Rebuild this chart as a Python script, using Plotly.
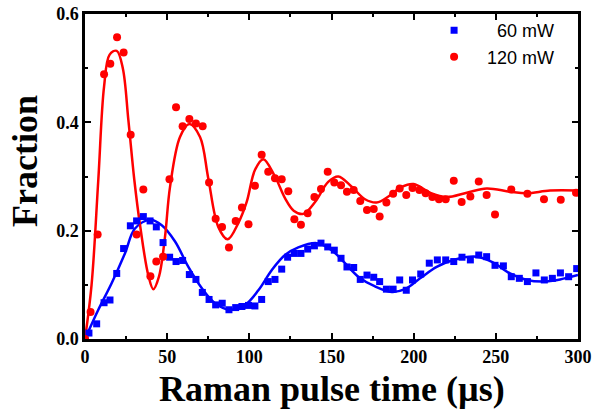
import plotly.graph_objects as go

# ---- data: 60 mW (blue squares) ----
t60 = [0, 2.4, 7.1, 11.6, 15.2, 19.3, 23.5, 27.6, 31.4, 35.5, 39.6, 43.4, 47.5, 51.5, 55.4,
       59.4, 63.5, 67.5, 71.4, 75.5, 79.5, 83.5, 87.6, 91.7, 95.5, 99.5, 103.4, 107.5, 111.5,
       115.6, 119.7, 123.3, 127.4, 131.4, 135.5, 139.6, 143.6, 147.7, 151.7, 155.8, 159.4,
       163.5, 167.5, 171.6, 175.7, 179.3, 183.4, 187.5, 191.5, 195.5, 199.3, 204.3, 209.5,
       214.4, 219.5, 224.4, 229.4, 234.5, 239.6, 244.4, 249.5, 254.6, 259.4, 264.3, 269.2,
       274.4, 279.5, 284.4, 289.3, 294.3, 299.2]
f60 = [0.0, 0.011, 0.028, 0.067, 0.072, 0.121, 0.167, 0.209, 0.218, 0.226, 0.218, 0.207, 0.178,
       0.151, 0.143, 0.145, 0.119, 0.110, 0.086, 0.073, 0.063, 0.066, 0.054, 0.058, 0.060,
       0.062, 0.061, 0.073, 0.106, 0.110, 0.129, 0.151, 0.158, 0.158, 0.166, 0.172, 0.177,
       0.170, 0.164, 0.149, 0.133, 0.132, 0.110, 0.118, 0.114, 0.106, 0.092, 0.092, 0.109,
       0.090, 0.109, 0.120, 0.140, 0.146, 0.146, 0.143, 0.151, 0.146, 0.155, 0.152, 0.136,
       0.135, 0.115, 0.112, 0.106, 0.122, 0.109, 0.112, 0.122, 0.115, 0.130]

# ---- data: 120 mW (red circles) ----
t120 = [0, 3.4, 7.7, 11.6, 15.4, 19.5, 23.5, 27.8, 31.4, 35.5, 39.8, 43.4, 47.5, 51.4, 55.4,
        59.4, 63.5, 67.5, 71.6, 75.5, 79.5, 83.4, 87.6, 91.7, 95.5, 99.5, 103.4, 107.5, 111.5,
        115.6, 119.7, 123.7, 127.4, 131.4, 135.5, 139.6, 143.6, 147.7, 151.7, 155.8, 159.4,
        163.5, 167.5, 171.6, 175.7, 179.3, 183.4, 187.5, 191.5, 195.5, 199.3, 203.5, 207.3,
        211.4, 215.4, 219.5, 224.4, 229.2, 234.5, 239.6, 244.4, 249.5, 259.4, 269.2, 279.3,
        289.5, 298.8]
f120 = [0.0, 0.050, 0.193, 0.489, 0.508, 0.557, 0.529, 0.377, 0.193, 0.276, 0.116, 0.143, 0.152,
        0.295, 0.428, 0.393, 0.406, 0.398, 0.393, 0.289, 0.222, 0.207, 0.169, 0.218, 0.243,
        0.212, 0.283, 0.340, 0.309, 0.297, 0.295, 0.273, 0.221, 0.211, 0.232, 0.262, 0.277,
        0.309, 0.289, 0.284, 0.272, 0.275, 0.255, 0.238, 0.240, 0.226, 0.252, 0.268, 0.278,
        0.266, 0.279, 0.275, 0.269, 0.262, 0.258, 0.258, 0.292, 0.253, 0.263, 0.291, 0.266,
        0.230, 0.276, 0.268, 0.258, 0.257, 0.270]

# ---- fit curves ----
fit60_t = [0, 8.1, 16.2, 24.3, 30.4, 39.6, 46.7, 54.8, 62.9, 71.0, 79.1, 88.2, 97.4, 105.5,
           113.6, 121.7, 129.8, 141.0, 150.1, 158.2, 166.3, 176.5, 186.6, 194.7, 203.9, 214.0,
           224.1, 238.3, 248.5, 258.6, 268.8, 278.9, 289.1, 300]
fit60_f = [0.0, 0.054, 0.103, 0.158, 0.204, 0.220, 0.210, 0.180, 0.133, 0.094, 0.066, 0.054,
           0.063, 0.090, 0.127, 0.155, 0.169, 0.177, 0.164, 0.140, 0.115, 0.097, 0.087, 0.092,
           0.112, 0.133, 0.146, 0.152, 0.141, 0.121, 0.109, 0.106, 0.110, 0.118]

fit120_t = [0, 4.0, 8.1, 11.6, 15.0, 19.3, 23.0, 26.4, 30.0, 33.5, 38.5, 41.6, 45.0, 48.7,
            51.7, 57.8, 63.5, 70.0, 75.0, 81.1, 86.8, 93.3, 98.4, 103.4, 108.5, 115.6, 121.7,
            127.0, 132.8, 140.0, 148.0, 154.2, 162.3, 170.4, 177.5, 184.6, 192.7, 200.0, 210.0,
            220.0, 232.3, 244.4, 258.6, 268.8, 283.0, 300]
fit120_f = [0.0, 0.10, 0.294, 0.466, 0.525, 0.532, 0.500, 0.404, 0.294, 0.210, 0.118, 0.092,
            0.115, 0.189, 0.280, 0.373, 0.397, 0.373, 0.297, 0.207, 0.184, 0.214, 0.253, 0.312,
            0.332, 0.300, 0.260, 0.237, 0.231, 0.253, 0.290, 0.300, 0.281, 0.258, 0.252, 0.263,
            0.281, 0.286, 0.270, 0.262, 0.270, 0.278, 0.272, 0.269, 0.274, 0.274]

x_ticks = [0, 50, 100, 150, 200, 250, 300]
y_ticks = [0, 0.2, 0.4, 0.6]

BLUE = "#0000FF"
RED = "#FF0000"
NB = "\u00a0"

fig = go.Figure()
fig.add_trace(go.Scatter(x=fit60_t, y=fit60_f, mode="lines", line=dict(color=BLUE, width=2.5, shape="spline", smoothing=1.0),
                         showlegend=False, hoverinfo="skip"))
fig.add_trace(go.Scatter(x=fit120_t, y=fit120_f, mode="lines", line=dict(color=RED, width=2.5, shape="spline", smoothing=1.0),
                         showlegend=False, hoverinfo="skip"))
fig.add_trace(go.Scatter(x=t60, y=f60, mode="markers", name=NB * 4 + "60 mW",
                         marker=dict(symbol="square", size=7, color=BLUE, line=dict(width=0))))
fig.add_trace(go.Scatter(x=t120, y=f120, mode="markers", name=NB * 2 + "120 mW",
                         marker=dict(symbol="circle", size=8, color=RED, line=dict(width=0))))

tickfont = dict(family="Liberation Serif", size=18, color="black", weight="bold")
titlefont = dict(family="Liberation Serif", size=36, color="black", weight="bold")

fig.update_layout(
    width=593, height=413,
    margin=dict(l=85, r=15, t=14, b=74),
    paper_bgcolor="white", plot_bgcolor="white",
    legend=dict(x=0.702, y=1.006, xanchor="left", yanchor="top",
                font=dict(family="Liberation Sans", size=18, color="black"),
                bgcolor="rgba(0,0,0,0)", tracegroupgap=0, itemwidth=36),
    xaxis=dict(range=[0, 300], tickvals=x_ticks, automargin=False,
               ticks="inside", ticklen=6, tickwidth=2, tickcolor="black",
               minor=dict(tickvals=[25, 75, 125, 175, 225, 275], ticks="inside", ticklen=3, tickwidth=1.5, tickcolor="black"),
               showline=True, linecolor="black", linewidth=2.5, mirror="allticks",
               showgrid=False, zeroline=False, tickfont=tickfont),
    yaxis=dict(range=[0, 0.6], tickvals=y_ticks, tickformat=".1f", automargin=False,
               ticks="inside", ticklen=6, tickwidth=2, tickcolor="black",
               minor=dict(tickvals=[0.1, 0.3, 0.5], ticks="inside", ticklen=3, tickwidth=1.5, tickcolor="black"),
               showline=True, linecolor="black", linewidth=2.5, mirror="allticks",
               showgrid=False, zeroline=False, tickfont=tickfont),
    annotations=[
        dict(text="Raman pulse time (\u00b5s)", xref="paper", yref="paper", x=0.5, y=-0.154,
             xanchor="center", yanchor="middle", showarrow=False, font=titlefont),
        dict(text="Fraction", xref="paper", yref="paper", x=-0.1217, y=0.5477, textangle=-90,
             xanchor="center", yanchor="middle", showarrow=False, font=titlefont),
    ],
)

fig.write_html("out.html")
